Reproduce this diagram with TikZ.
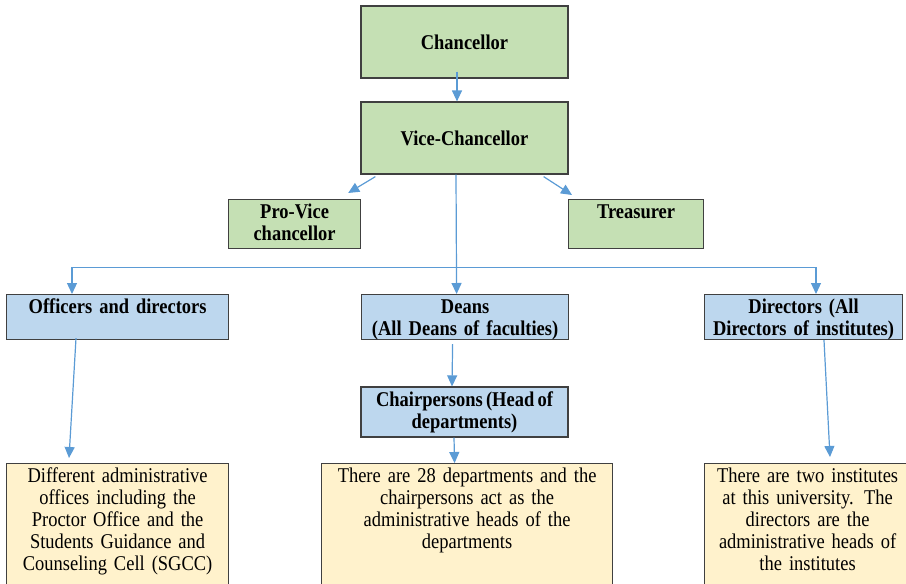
\documentclass[tikz,border=0pt]{standalone}
\usepackage{fontspec}
\setmainfont{Liberation Serif}[FakeStretch=0.88,WordSpace=0.7]
\usetikzlibrary{arrows.meta,calc,positioning}
\definecolor{ink}{HTML}{404040}
\definecolor{leaf}{HTML}{C5E0B4}
\definecolor{sky}{HTML}{BDD7EE}
\definecolor{cream}{HTML}{FFF2CC}
\definecolor{link}{HTML}{5B9BD5}
\newcommand{\bodyfont}{\fontsize{21}{22}\selectfont}
\tikzset{
  >={Triangle[length=11pt,width=10pt]},
  every node/.style={font=\bodyfont},
  box/.style={draw=ink,line width=1.2pt,inner sep=0pt,align=center},
  topbox/.style={anchor=north west,inner ysep=4.5pt,text height=14.5pt,text depth=#1},
  gbox/.style={box,fill=leaf,font=\bodyfont\bfseries},
  bbox/.style={box,fill=sky,font=\bodyfont\bfseries},
  ybox/.style={box,fill=cream},
  arr/.style={draw=link,line width=1.2pt,->},
}
\begin{document}
\begin{tikzpicture}[x=1pt,y=-1pt]
  \useasboundingbox (0,0) rectangle (906,584);
  % head of the university
  \node[gbox,minimum width=207pt,minimum height=72pt] (chan) at (464.5,42) {Chancellor};
  \node[gbox,minimum width=207pt,minimum height=72pt] (vice) at (464.5,138) {Vice-Chancellor};
  \node[gbox,topbox=25.5pt,text width=132pt] (prov) at (228,199) {Pro-Vice\\chancellor};
  \node[gbox,topbox=25.5pt,text width=135pt] (treas) at (568,199) {Treasurer};
  % second level
  \node[bbox,topbox=21.5pt,text width=222pt] (offi) at (6,294) {Officers and directors};
  \node[bbox,topbox=21.5pt,text width=207pt] (dean) at (361,294) {Deans\\(All Deans of faculties)};
  \node[bbox,topbox=21.5pt,text width=198pt] (dirs) at (704,294) {Directors (All\\Directors of institutes)};
  \node[bbox,minimum width=207pt,minimum height=50pt] (chair) at (464.5,412) {Chairpersons (Head of\\departments)};
  % notes at the bottom
  \node[ybox,topbox=113.5pt,text width=222pt] (offnote) at (6,463)
    {Different administrative\\offices including the\\Proctor Office and the\\Students Guidance and\\Counseling Cell (SGCC)};
  \node[ybox,topbox=113.5pt,text width=291pt] (depnote) at (321,463)
    {There are 28 departments and the\\chairpersons act as the\\administrative heads of the\\departments};
  \node[ybox,topbox=113.5pt,text width=206pt] (instnote) at (704,463)
    {There are two institutes\\at this university. The\\directors are the\\administrative heads of\\the institutes};
  % connectors
  \draw[arr] ([xshift=-7.5pt,yshift=7pt]chan.south) -- ([xshift=-7.5pt]vice.north);
  \draw[arr] ([xshift=15pt,yshift=-2pt]vice.south west) -- ([xshift=-13pt,yshift=6pt]prov.north east);
  \draw[arr] ([xshift=-25pt,yshift=-2pt]vice.south east) -- ([xshift=4pt,yshift=4pt]treas.north west);
  \draw[arr] ([xshift=-8.5pt]vice.south) -- ([xshift=-8.5pt]dean.north);
  \coordinate (fork) at ([xshift=-8.5pt,yshift=-93pt]vice.south);
  \draw[arr] (fork) -| ([xshift=66pt]offi.north west);
  \draw[arr] (fork) -| ([xshift=112pt]dirs.north west);
  \draw[arr] ([xshift=70pt,yshift=2pt]offi.south west) -- ([xshift=63pt,yshift=5pt]offnote.north west);
  \draw[arr] ([xshift=-12.5pt,yshift=-4pt]dean.south) -- ([xshift=-12.5pt]chair.north);
  \draw[arr] ([xshift=-10.5pt]chair.south) -- ([xshift=-12.5pt]depnote.north);
  \draw[arr] ([xshift=120pt]dirs.south west) -- ([xshift=126pt,yshift=6pt]instnote.north west);
\end{tikzpicture}
\end{document}
